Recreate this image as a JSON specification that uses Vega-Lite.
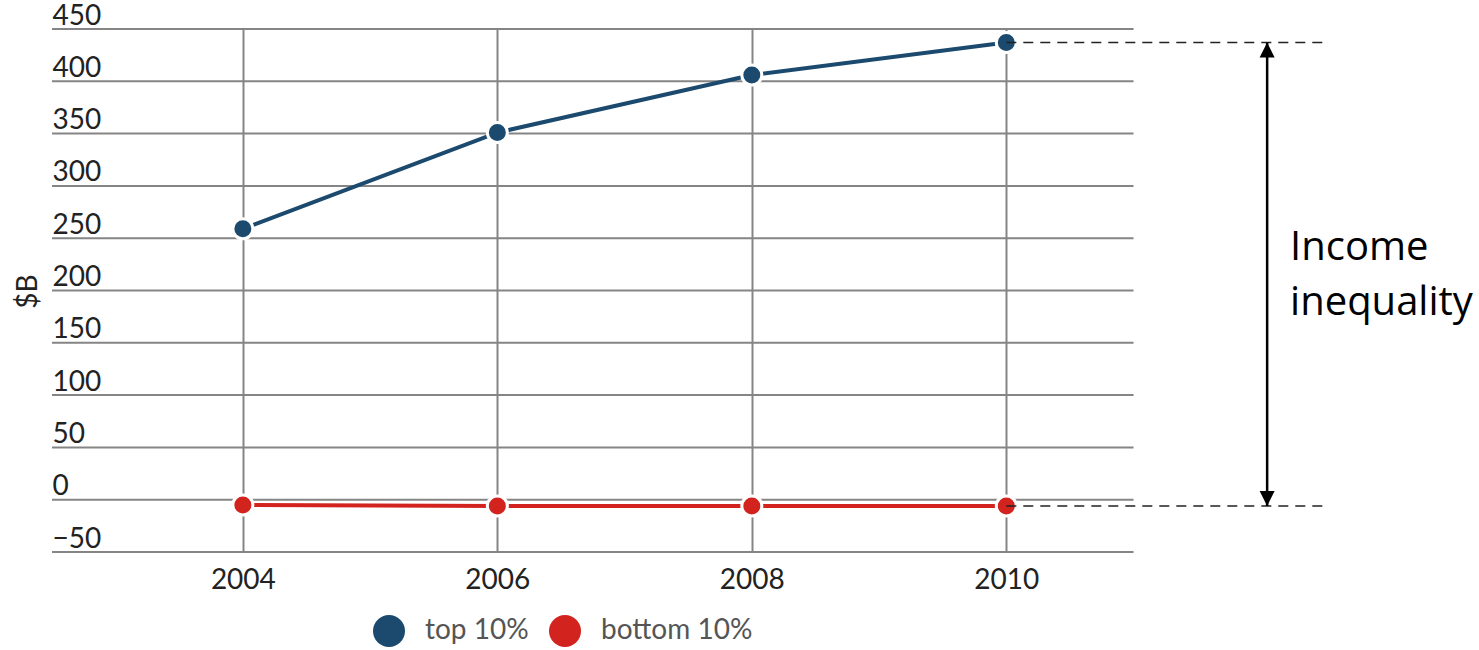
{
  "$schema": "https://vega.github.io/schema/vega-lite/v6.json",
  "width": 1427,
  "height": 523,
  "autosize": {"type": "none"},
  "padding": {"left": 52, "top": 29, "right": 0, "bottom": 98},
  "background": "white",
  "config": {"view": {"stroke": null}, "font": "Lato"},
  "datasets": {
    "series": [
      {"year": 2004, "value": 259, "series": "top 10%"},
      {"year": 2006, "value": 351, "series": "top 10%"},
      {"year": 2008, "value": 406, "series": "top 10%"},
      {"year": 2010, "value": 437, "series": "top 10%"},
      {"year": 2004, "value": -5, "series": "bottom 10%"},
      {"year": 2006, "value": -6, "series": "bottom 10%"},
      {"year": 2008, "value": -6, "series": "bottom 10%"},
      {"year": 2010, "value": -6, "series": "bottom 10%"}
    ],
    "grid": [
      {"v": -50}, {"v": 0}, {"v": 50}, {"v": 100}, {"v": 150}, {"v": 200},
      {"v": 250}, {"v": 300}, {"v": 350}, {"v": 400}, {"v": 450}
    ],
    "guides": [{"value": 437}, {"value": -6}],
    "arrow": [{"top": 437, "bottom": -6}],
    "headTop": [{"v": 437}],
    "headBottom": [{"v": -6}],
    "annot": [{"label": "Income\ninequality"}]
  },
  "layer": [
    {
      "data": {"name": "grid"},
      "mark": {"type": "rule", "color": "#858585", "strokeWidth": 2},
      "encoding": {
        "x": {"datum": 2002.5, "type": "quantitative", "scale": {"domain": [2002.5, 2013.715], "nice": false, "zero": false},
          "axis": {"values": [2004, 2006, 2008, 2010], "format": "d", "title": null, "grid": true, "gridColor": "#858585", "gridWidth": 2, "domain": false, "ticks": false, "labelPadding": 14, "labelFontSize": 28, "labelColor": "#222222", "labelBaseline": "top"}},
        "x2": {"datum": 2011},
        "y": {"field": "v", "type": "quantitative", "scale": {"domain": [-50, 450], "nice": false, "zero": false},
          "axis": {"values": [-50, 0, 50, 100, 150, 200, 250, 300, 350, 400, 450], "grid": false, "domain": false, "ticks": false, "tickSize": 0, "labelAlign": "left", "labelPadding": 0, "labelBaseline": "alphabetic", "labelOffset": -5, "labelFontSize": 28, "labelColor": "#222222",
            "title": "$B", "titleX": -24, "titleY": 262, "titleAngle": -90, "titleAlign": "center", "titleBaseline": "middle", "titleFontSize": 28, "titleFontWeight": "normal", "titleColor": "#222222"}}
      }
    },
    {
      "data": {"name": "series"},
      "mark": {"type": "line", "strokeWidth": 4},
      "encoding": {
        "x": {"field": "year", "type": "quantitative", "scale": {"domain": [2002.5, 2013.715], "nice": false, "zero": false}},
        "y": {"field": "value", "type": "quantitative", "scale": {"domain": [-50, 450], "nice": false, "zero": false}},
        "color": {"field": "series", "type": "nominal", "scale": {"domain": ["top 10%", "bottom 10%"], "range": ["#1b4a6e", "#d3231f"]},
          "legend": {"title": null, "orient": "none", "direction": "horizontal", "legendX": 321, "legendY": 586, "symbolType": "circle", "symbolSize": 1024, "symbolStrokeWidth": 0, "symbolOpacity": 1, "labelFontSize": 28, "labelColor": "#555555", "labelOffset": 20, "columnPadding": 20}}
      }
    },
    {
      "data": {"name": "series"},
      "mark": {"type": "point", "filled": true, "size": 400, "stroke": "white", "strokeWidth": 3, "opacity": 1},
      "encoding": {
        "x": {"field": "year", "type": "quantitative", "scale": {"domain": [2002.5, 2013.715], "nice": false, "zero": false}},
        "y": {"field": "value", "type": "quantitative", "scale": {"domain": [-50, 450], "nice": false, "zero": false}},
        "color": {"field": "series", "type": "nominal", "scale": {"domain": ["top 10%", "bottom 10%"], "range": ["#1b4a6e", "#d3231f"]},
          "legend": {"title": null, "orient": "none", "direction": "horizontal", "legendX": 321, "legendY": 586, "symbolType": "circle", "symbolSize": 1024, "symbolStrokeWidth": 0, "symbolOpacity": 1, "labelFontSize": 28, "labelColor": "#555555", "labelOffset": 20, "columnPadding": 20}}
      }
    },
    {
      "data": {"name": "guides"},
      "mark": {"type": "rule", "color": "#222222", "strokeWidth": 1.5, "strokeDash": [10, 7]},
      "encoding": {
        "x": {"datum": 2010, "type": "quantitative", "scale": {"domain": [2002.5, 2013.715], "nice": false, "zero": false}},
        "x2": {"datum": 2012.49},
        "y": {"field": "value", "type": "quantitative", "scale": {"domain": [-50, 450], "nice": false, "zero": false}}
      }
    },
    {
      "data": {"name": "arrow"},
      "mark": {"type": "rule", "color": "black", "strokeWidth": 2.5},
      "encoding": {
        "x": {"datum": 2012.05, "type": "quantitative", "scale": {"domain": [2002.5, 2013.715], "nice": false, "zero": false}},
        "y": {"field": "top", "type": "quantitative", "scale": {"domain": [-50, 450], "nice": false, "zero": false}},
        "y2": {"field": "bottom"}
      }
    },
    {
      "data": {"name": "headTop"},
      "mark": {"type": "point", "filled": true, "color": "black", "size": 225, "opacity": 1, "strokeWidth": 0, "shape": "M0,0L-1,2L1,2Z"},
      "encoding": {
        "x": {"datum": 2012.05, "type": "quantitative", "scale": {"domain": [2002.5, 2013.715], "nice": false, "zero": false}},
        "y": {"field": "v", "type": "quantitative", "scale": {"domain": [-50, 450], "nice": false, "zero": false}}
      }
    },
    {
      "data": {"name": "headBottom"},
      "mark": {"type": "point", "filled": true, "color": "black", "size": 225, "opacity": 1, "strokeWidth": 0, "shape": "M0,0L-1,-2L1,-2Z"},
      "encoding": {
        "x": {"datum": 2012.05, "type": "quantitative", "scale": {"domain": [2002.5, 2013.715], "nice": false, "zero": false}},
        "y": {"field": "v", "type": "quantitative", "scale": {"domain": [-50, 450], "nice": false, "zero": false}}
      }
    },
    {
      "data": {"name": "annot"},
      "mark": {"type": "text", "align": "left", "baseline": "alphabetic", "font": "Open Sans", "fontSize": 40, "lineBreak": "\n", "lineHeight": 55, "color": "black"},
      "encoding": {
        "x": {"datum": 2012.23, "type": "quantitative", "scale": {"domain": [2002.5, 2013.715], "nice": false, "zero": false}},
        "y": {"datum": 229, "type": "quantitative", "scale": {"domain": [-50, 450], "nice": false, "zero": false}},
        "text": {"field": "label"}
      }
    }
  ]
}
